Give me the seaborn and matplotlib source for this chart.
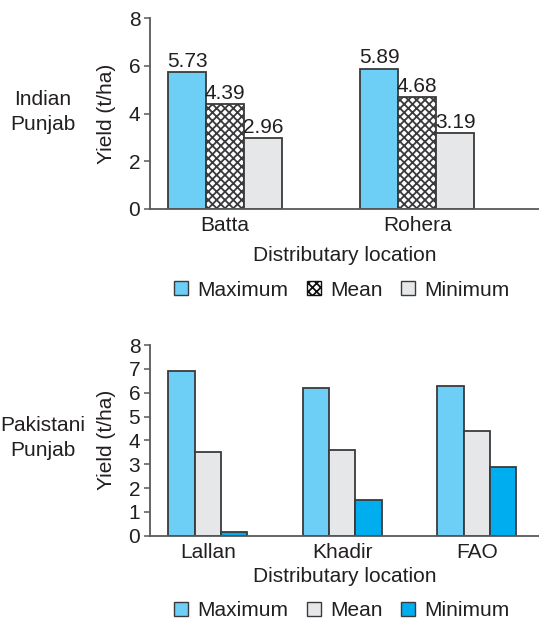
import matplotlib
matplotlib.use("Agg")
import matplotlib.pyplot as plt
import matplotlib.patches as mpatches
import pandas as pd
import seaborn as sns

# Indian Punjab distributaries
india_sites = ["Batta", "Rohera"]
india_max = [5.73, 5.89]
india_mean = [4.39, 4.68]
india_min = [2.96, 3.19]

# Pakistani Punjab distributaries
pak_sites = ["Lallan", "Khadir", "FAO"]
pak_max = [6.9, 6.2, 6.3]
pak_mean = [3.5, 3.6, 4.4]
pak_min = [0.15, 1.5, 2.9]

stats = ["Maximum", "Mean", "Minimum"]
y_ticks_top = [0, 2, 4, 6, 8]
y_ticks_bottom = [0, 1, 2, 3, 4, 5, 6, 7, 8]

LIGHT_BLUE = "#6dcff6"
LIGHT_GREY = "#e6e7e8"
CYAN = "#00aeef"
EDGE = "#3a3a3c"
TEXT = "#231f20"
SPINE = "#58595b"

sns.set_theme(style="white")
plt.rcParams["font.family"] = ["Liberation Sans", "DejaVu Sans"]
plt.rcParams["text.color"] = TEXT
plt.rcParams["axes.labelcolor"] = TEXT
plt.rcParams["xtick.color"] = TEXT
plt.rcParams["ytick.color"] = TEXT
plt.rcParams["hatch.linewidth"] = 1.3
plt.rcParams["hatch.color"] = "#111111"

FS = 15


def long_frame(sites, mx, mn, lo):
    rows = []
    for s, a, b, c in zip(sites, mx, mn, lo):
        rows += [(s, "Maximum", a), (s, "Mean", b), (s, "Minimum", c)]
    return pd.DataFrame(rows, columns=["site", "stat", "yield"])


def style_axis(ax, ticks, xpad):
    sns.despine(ax=ax)
    for side in ("left", "bottom"):
        ax.spines[side].set_color(SPINE)
        ax.spines[side].set_linewidth(1.3)
    ax.set_ylim(0, 8)
    ax.set_yticks(ticks)
    ax.tick_params(axis="y", left=True, length=4, width=1.1, color=SPINE,
                   pad=3, labelsize=FS)
    ax.tick_params(axis="x", bottom=False, length=0, pad=5, labelsize=FS)
    ax.set_ylabel("Yield (t/ha)", fontsize=FS, labelpad=9)
    ax.set_xlabel("Distributary location", fontsize=FS, labelpad=xpad)


fig = plt.figure(figsize=(5.39, 6.29), dpi=100)
W, H = 539, 629

# ---- Indian Punjab ----
ax1 = fig.add_axes([150 / W, 1 - 209 / H, 390 / W, (209 - 18.3) / H])
df1 = long_frame(india_sites, india_max, india_mean, india_min)
sns.barplot(data=df1, x="site", y="yield", hue="stat", hue_order=stats,
            palette=[LIGHT_BLUE, "white", LIGHT_GREY], saturation=1,
            width=0.594, edgecolor=EDGE, linewidth=1.3, legend=False,
            errorbar=None, ax=ax1)
for bar in ax1.containers[1]:
    bar.set_hatch("xxxx")
for cont in ax1.containers:
    ax1.bar_label(cont, fmt="%.2f", padding=1, fontsize=FS, color=TEXT)
ax1.set_xlim(-0.392, 1.64)
style_axis(ax1, y_ticks_top, xpad=8)

legend_kw = dict(loc="center", ncol=3, frameon=False, fontsize=FS,
                 handlelength=0.65, handleheight=0.65, handletextpad=0.45,
                 columnspacing=0.9, borderpad=0.2)

h1 = [mpatches.Patch(facecolor=LIGHT_BLUE, edgecolor=EDGE, linewidth=1),
      mpatches.Patch(facecolor="white", edgecolor="#111111", hatch="xxxx", linewidth=1),
      mpatches.Patch(facecolor=LIGHT_GREY, edgecolor=EDGE, linewidth=1)]
fig.legend(h1, stats, bbox_to_anchor=(342 / W, 1 - 290 / H), **legend_kw)

fig.text(43 / W, 1 - 112 / H, "Indian\nPunjab", ha="center", va="center",
         fontsize=FS, linespacing=1.35)

# ---- Pakistani Punjab ----
ax2 = fig.add_axes([150 / W, 1 - 535.7 / H, 390 / W, (535.7 - 345) / H])
df2 = long_frame(pak_sites, pak_max, pak_mean, pak_min)
sns.barplot(data=df2, x="site", y="yield", hue="stat", hue_order=stats,
            palette=[LIGHT_BLUE, LIGHT_GREY, CYAN], saturation=1,
            width=0.588, edgecolor=EDGE, linewidth=1.3, legend=False,
            errorbar=None, ax=ax2)
ax2.set_xlim(-0.43, 2.471)
style_axis(ax2, y_ticks_bottom, xpad=4)

h2 = [mpatches.Patch(facecolor=c, edgecolor=EDGE, linewidth=1)
      for c in (LIGHT_BLUE, LIGHT_GREY, CYAN)]
fig.legend(h2, stats, bbox_to_anchor=(342 / W, 1 - 611 / H), **legend_kw)

fig.text(43 / W, 1 - 438 / H, "Pakistani\nPunjab", ha="center", va="center",
         fontsize=FS, linespacing=1.35)

fig.savefig("out.png", dpi=100)
